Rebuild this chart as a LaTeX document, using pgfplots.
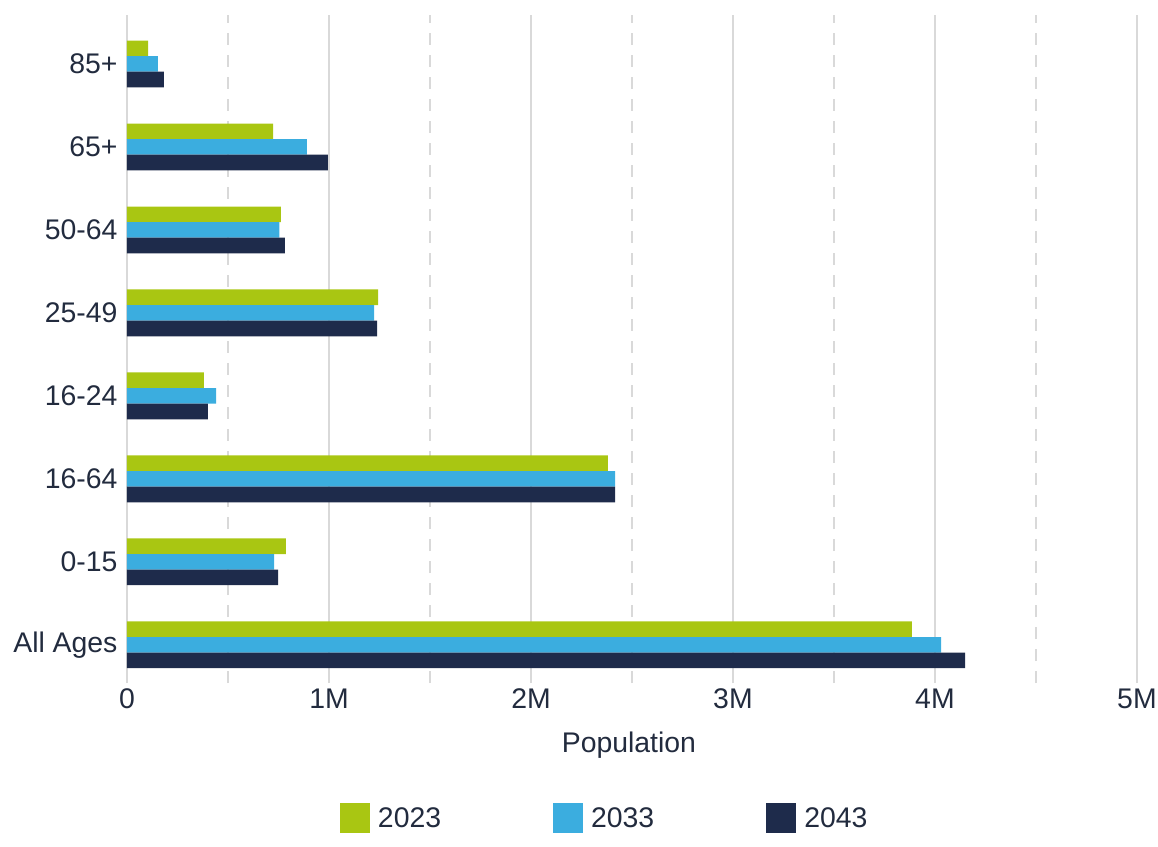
\documentclass[border=0pt]{standalone}
\usepackage{pgfplots}
\pgfplotsset{compat=1.18}
\usepackage{fontspec}
\setmainfont{Liberation Sans}
\definecolor{cgreen}{HTML}{A9C612}
\definecolor{cblue}{HTML}{3BADDF}
\definecolor{cnavy}{HTML}{1E2B4B}
\definecolor{ctext}{HTML}{222B3E}
\definecolor{cgrid}{HTML}{D9D9D9}
\begin{document}
\begin{tikzpicture}
\path[use as bounding box] (-127bp,-164bp) rectangle (1031bp,683bp);
\begin{axis}[
  scale only axis,
  width=1010bp, height=668bp,
  xmin=0, xmax=5,
  ymin=-0.46, ymax=7.59,
  axis line style={draw=none},
  major tick length=0pt, minor tick length=0pt,
  xtick={0,1,2,3,4,5},
  xticklabels={0,1M,2M,3M,4M,5M},
  minor xtick={0.5,1.5,2.5,3.5,4.5},
  ytick={0,1,2,3,4,5,6,7},
  yticklabels={All Ages,0-15,16-64,16-24,25-49,50-64,65+,85+},
  xmajorgrids, xminorgrids,
  major x grid style={cgrid, line width=1.2bp},
  minor x grid style={cgrid, line width=1.2bp, dash pattern=on 12bp off 10bp},
  ymajorgrids=false,
  tick label style={font=\fontsize{28.5}{32}\selectfont, text=ctext},
  xticklabel style={yshift=-2bp},
  yticklabel style={xshift=-6bp},
  xlabel={Population},
  xlabel style={font=\fontsize{28.5}{32}\selectfont, text=ctext, at={(axis description cs:0.497,0)}, anchor=center, yshift=-62bp},
  xbar, bar width=0.188,
  legend style={at={(axis description cs:0.473,-0.202)}, anchor=center, draw=none, fill=none,
    font=\fontsize{28.5}{32}\selectfont, text=ctext,
    /tikz/every odd column/.append style={column sep=6bp},
    /tikz/every even column/.append style={column sep=110bp}},
  legend columns=3,
  legend image code/.code={\fill[#1] (0bp,-15bp) rectangle (30bp,15bp);},
  legend cell align=left,
]
\addplot[fill=cgreen, draw=none, bar shift=0.188] coordinates {
 (3.886,0) (0.787,1) (2.381,2) (0.381,3) (1.243,4) (0.762,5) (0.723,6) (0.104,7)};
\addplot[fill=cblue, draw=none, bar shift=0] coordinates {
 (4.030,0) (0.728,1) (2.416,2) (0.441,3) (1.223,4) (0.754,5) (0.890,6) (0.153,7)};
\addplot[fill=cnavy, draw=none, bar shift=-0.188] coordinates {
 (4.149,0) (0.748,1) (2.416,2) (0.400,3) (1.238,4) (0.782,5) (0.995,6) (0.183,7)};
\legend{2023,2033,2043}
\end{axis}
\end{tikzpicture}
\end{document}
